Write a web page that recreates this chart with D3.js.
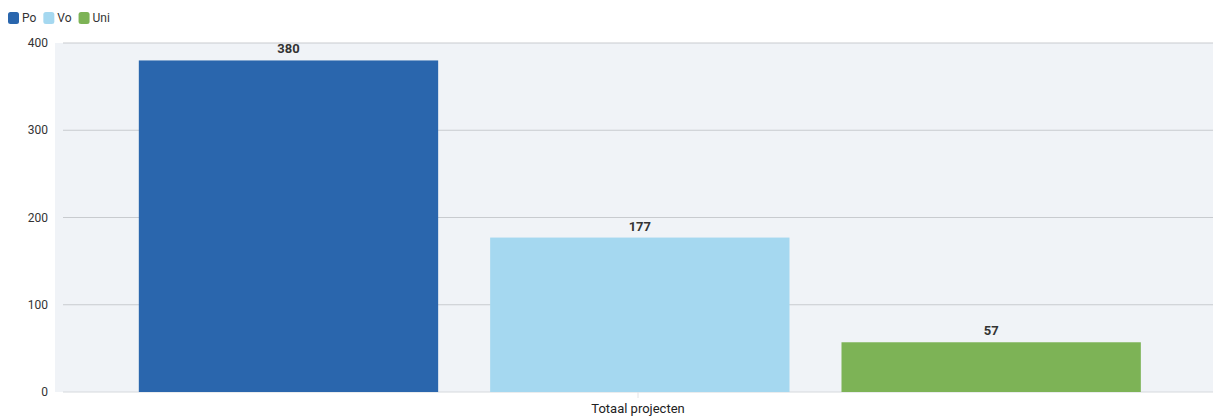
<!DOCTYPE html>
<html><head><meta charset="utf-8">
<script src="https://cdn.jsdelivr.net/npm/d3@7"></script>
<style>body{margin:0;background:#fff;font-family:Roboto,"Noto Sans",sans-serif;}</style>
</head><body>
<svg id="c" width="1213" height="416"></svg>
<script>
const categories = ["Totaal projecten"];
const seriesNames = ["Po", "Vo", "Uni"];
const seriesValues = [380, 177, 57];
const seriesColors = ["#2a66ad", "#a5d8f0", "#7db356"];
const yTicks = [0, 100, 200, 300, 400];

const svg = d3.select("#c");
const m = {left: 55, right: 0, top: 43, bottom: 24};
const W = 1213, H = 416;
const x0 = d3.scaleBand().domain(categories).range([63, 1217]).padding(0);
const x1 = d3.scaleBand().domain(seriesNames).range([x0.bandwidth()*0.0657, x0.bandwidth()*0.934]).paddingInner(0.148).paddingOuter(0);
const y = d3.scaleLinear().domain([0, 400]).range([H - m.bottom - 0, m.top]);

svg.append("rect").attr("x", m.left).attr("y", y(400)).attr("width", W - m.left).attr("height", y(0) - y(400)).attr("fill", "#f0f3f7");

svg.append("g").selectAll("line").data(yTicks).join("line")
  .attr("x1", 63).attr("x2", W).attr("y1", d => y(d)).attr("y2", d => y(d))
  .attr("stroke", d => d === 0 ? "#d6d9dd" : "#c8cbcf").attr("stroke-width", 1);

svg.append("g").selectAll("text").data(yTicks).join("text")
  .attr("x", 48).attr("y", d => y(d)).attr("dy", "0.35em").attr("text-anchor", "end")
  .attr("font-size", 12).attr("fill", "#333").text(d => d);

const g = svg.append("g").attr("transform", `translate(${x0(categories[0])},0)`);
g.selectAll("rect").data(seriesValues).join("rect")
  .attr("x", (d, i) => x1(seriesNames[i])).attr("width", x1.bandwidth())
  .attr("y", d => y(d)).attr("height", d => y(0) - y(d))
  .attr("fill", (d, i) => seriesColors[i]);
g.selectAll("text").data(seriesValues).join("text")
  .attr("x", (d, i) => x1(seriesNames[i]) + x1.bandwidth()/2).attr("y", d => y(d) - 7)
  .attr("text-anchor", "middle").attr("font-size", 13).attr("font-weight", "bold").attr("fill", "#333")
  .text(d => d);

const cx = x0(categories[0]) + x0.bandwidth()/2 - 2;
svg.append("line").attr("x1", cx).attr("x2", cx).attr("y1", y(0)).attr("y2", y(0)+6).attr("stroke", "#e2e4e7");
svg.append("text").attr("x", cx).attr("y", 413).attr("text-anchor", "middle").attr("font-size", 13).attr("fill", "#222").text(categories[0]);

const lg = svg.append("g");
let lx = 8;
seriesNames.forEach((n, i) => {
  lg.append("rect").attr("x", lx).attr("y", 12).attr("width", 11).attr("height", 12).attr("rx", 2.5).attr("fill", seriesColors[i]);
  const t = lg.append("text").attr("x", lx + 14).attr("y", 22).attr("font-size", 12).attr("fill", "#333").text(n);
  lx += 14 + t.node().getComputedTextLength() + 7;
});
</script>
</body></html>
